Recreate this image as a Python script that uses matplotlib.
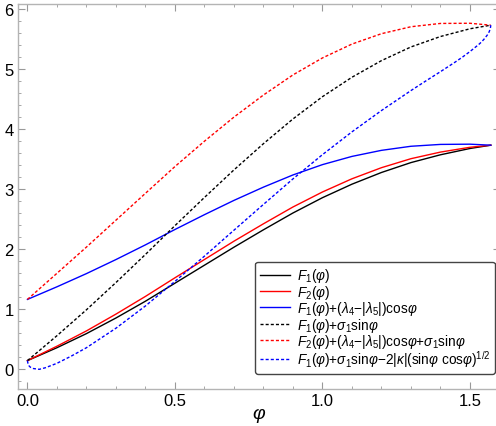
import numpy as np
import matplotlib.pyplot as plt

plt.rcParams['font.family'] = ['Liberation Sans', 'DejaVu Sans']
plt.rcParams['mathtext.fontset'] = 'custom'
plt.rcParams['mathtext.rm'] = 'Liberation Sans'
plt.rcParams['mathtext.it'] = 'Liberation Sans:italic'
plt.rcParams['mathtext.bf'] = 'Liberation Sans:bold'

# values
phi = [0.0, 0.1, 0.2, 0.3, 0.4, 0.5, 0.6, 0.7, 0.8, 0.9, 1.0, 1.1, 1.2, 1.3, 1.4, 1.5, 1.5708]
f1 = [0.14, 0.355, 0.59, 0.85, 1.13, 1.43, 1.73, 2.03, 2.32, 2.60, 2.855, 3.08, 3.275, 3.44, 3.57, 3.675, 3.73]
f2 = [0.14, 0.38, 0.635, 0.915, 1.21, 1.52, 1.825, 2.13, 2.42, 2.70, 2.95, 3.17, 3.355, 3.505, 3.615, 3.695, 3.73]
f1_lam = [1.16, 1.37, 1.59, 1.824, 2.069, 2.325, 2.572, 2.81, 3.031, 3.234, 3.406, 3.543, 3.644, 3.712, 3.743, 3.747, 3.73]
f1_sig = [0.14, 0.555, 0.987, 1.441, 1.909, 2.389, 2.859, 3.318, 3.755, 4.167, 4.538, 4.862, 5.139, 5.367, 5.541, 5.67, 5.73]
f2_lam_sig = [1.16, 1.595, 2.032, 2.48, 2.928, 3.374, 3.796, 4.198, 4.566, 4.901, 5.184, 5.415, 5.588, 5.704, 5.759, 5.762, 5.73]

phi_k = [0.0, 0.002, 0.005, 0.01, 0.02, 0.04, 0.06, 0.1, 0.15, 0.2, 0.3, 0.4, 0.5, 0.6, 0.7, 0.8, 0.9,
         1.0, 1.1, 1.2, 1.3, 1.35, 1.4, 1.45, 1.475, 1.5, 1.515, 1.53, 1.54, 1.55, 1.56, 1.565, 1.569, 1.5708]
f1_sig_kap = [0.14, 0.084, 0.055, 0.03, 0.008, -0.005, 0.02, 0.095, 0.219, 0.355, 0.68, 1.051, 1.46, 1.881, 2.313,
              2.743, 3.168, 3.572, 3.952, 4.307, 4.64, 4.799, 4.955, 5.115, 5.199, 5.29, 5.349, 5.409, 5.453,
              5.509, 5.573, 5.617, 5.668, 5.73]

labels = [r'$F_1(\varphi)$',
          r'$F_2(\varphi)$',
          r'$F_1(\varphi)$+$(\lambda_4$$-$$|\lambda_5|)$cos$\varphi$',
          r'$F_1(\varphi)$+$\sigma_1$sin$\varphi$',
          r'$F_2(\varphi)$+$(\lambda_4$$-$$|\lambda_5|)$cos$\varphi$+$\sigma_1$sin$\varphi$',
          r'$F_1(\varphi)$+$\sigma_1$sin$\varphi$$-$2$|\kappa|$(sin$\varphi$ cos$\varphi)^{1/2}$']

fig = plt.figure(figsize=(4.96, 4.27), dpi=100)
ax = fig.add_axes([18 / 496, 37 / 427, 482 / 496, 385 / 427])

lw = 1.0
dash = (2.2, 1.5)
ax.plot(phi, f1, color='black', lw=lw, label=labels[0])
ax.plot(phi, f2, color='red', lw=lw, label=labels[1])
ax.plot(phi, f1_lam, color='blue', lw=lw, label=labels[2])
ax.plot(phi, f1_sig, color='black', lw=lw, dashes=dash, label=labels[3])
ax.plot(phi, f2_lam_sig, color='red', lw=lw, dashes=dash, label=labels[4])
ax.plot(phi_k, f1_sig_kap, color='blue', lw=lw, dashes=dash, label=labels[5])

ax.set_xlim(-0.032, 1.602)
ax.set_ylim(-0.333, 6.083)
ax.set_xticks([0.0, 0.5, 1.0, 1.5])
ax.set_xticklabels(['0.0', '0.5', '1.0', '1.5'])
ax.set_yticks([0, 1, 2, 3, 4, 5, 6])
ax.set_xticks(np.arange(0.1, 1.6, 0.1), minor=True)
ax.set_yticks(np.arange(-0.2, 6.0, 0.2), minor=True)

for s in ax.spines.values():
    s.set_color('#b4b4b4')
    s.set_linewidth(1.0)
ax.tick_params(which='both', direction='in', top=True, right=True, color='#999999',
               labelsize=12, labelcolor='black', pad=3)
ax.tick_params(which='major', length=5, width=0.8)
ax.tick_params(which='minor', length=2.5, width=0.6)

ax.set_xlabel(r'$\varphi$', fontsize=14, labelpad=-2)

leg = ax.legend(loc='lower right', bbox_to_anchor=(0.99, 0.039), borderaxespad=0,
                fontsize=9.8, handlelength=2.2, handletextpad=0.5, labelspacing=-0.12,
                frameon=True, fancybox=True, borderpad=0.35)
leg.get_frame().set_edgecolor('#444444')
leg.get_frame().set_linewidth(1.0)
leg.get_frame().set_alpha(1.0)

fig.savefig('out.png', dpi=100)
